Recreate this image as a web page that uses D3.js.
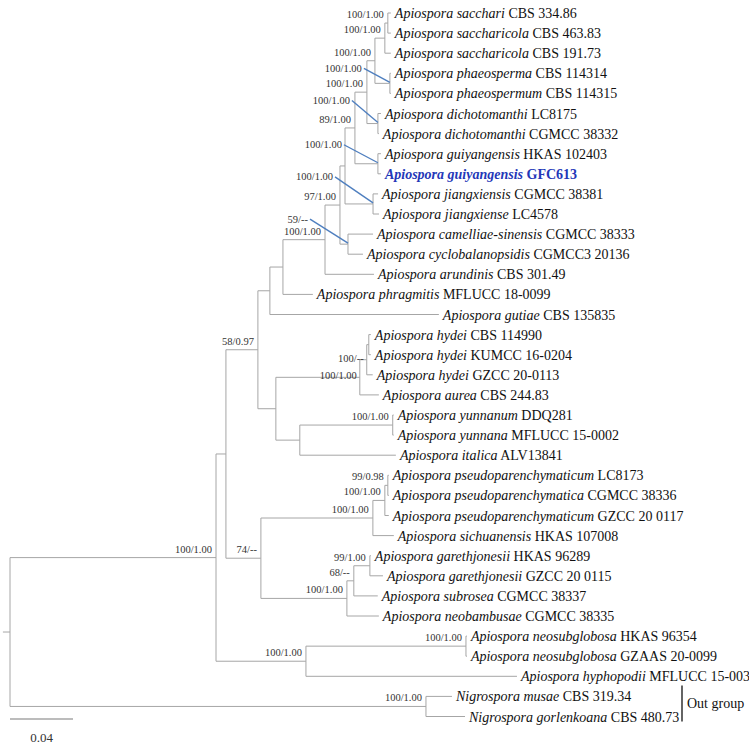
<!DOCTYPE html>
<html>
<head>
<meta charset="utf-8">
<script src="https://cdn.jsdelivr.net/npm/d3@7"></script>
<style>
  body { margin: 0; background: #fff; }
  svg { display: block; font-family: "Liberation Serif", "Times New Roman", serif; }
</style>
</head>
<body>
<svg id="tree" width="749" height="746"></svg>
<script>
// taxa, top to bottom (genus + epithet in italics, strain in roman)
const genera = [
  "Apiospora", "Apiospora", "Apiospora", "Apiospora", "Apiospora", "Apiospora",
  "Apiospora", "Apiospora", "Apiospora", "Apiospora", "Apiospora", "Apiospora",
  "Apiospora", "Apiospora", "Apiospora", "Apiospora", "Apiospora", "Apiospora",
  "Apiospora", "Apiospora", "Apiospora", "Apiospora", "Apiospora", "Apiospora",
  "Apiospora", "Apiospora", "Apiospora", "Apiospora", "Apiospora", "Apiospora",
  "Apiospora", "Apiospora", "Apiospora", "Apiospora", "Nigrospora", "Nigrospora"
];
const epithets = [
  "sacchari", "saccharicola", "saccharicola", "phaeosperma", "phaeospermum",
  "dichotomanthi", "dichotomanthi", "guiyangensis", "guiyangensis", "jiangxiensis",
  "jiangxiense", "camelliae-sinensis", "cyclobalanopsidis", "arundinis", "phragmitis",
  "gutiae", "hydei", "hydei", "hydei", "aurea", "yunnanum", "yunnana", "italica",
  "pseudoparenchymaticum", "pseudoparenchymatica", "pseudoparenchymaticum",
  "sichuanensis", "garethjonesii", "garethjonesii", "subrosea", "neobambusae",
  "neosubglobosa", "neosubglobosa", "hyphopodii", "musae", "gorlenkoana"
];
const strains = [
  "CBS 334.86", "CBS 463.83", "CBS 191.73", "CBS 114314", "CBS 114315",
  "LC8175", "CGMCC 38332", "HKAS 102403", "GFC613", "CGMCC 38381",
  "LC4578", "CGMCC 38333", "CGMCC3 20136", "CBS 301.49", "MFLUCC 18-0099",
  "CBS 135835", "CBS 114990", "KUMCC 16-0204", "GZCC 20-0113", "CBS 244.83",
  "DDQ281", "MFLUCC 15-0002", "ALV13841", "LC8173", "CGMCC 38336",
  "GZCC 20 0117", "HKAS 107008", "HKAS 96289", "GZCC 20 0115", "CGMCC 38337",
  "CGMCC 38335", "HKAS 96354", "GZAAS 20-0099", "MFLUCC 15-003", "CBS 319.34",
  "CBS 480.73"
];
const newTaxa = [8];         // this study
const outgroup = [34, 35];
const scaleBarLength = 0.04;
const rootStub = 0.0045;

// clades: n(support, [child, branch length], ...), child = taxon index or clade
const n = (support, ...kids) => ({ support, kids });

const sacc1 = n("100/1.00", [0, 0.0019], [1, 0.0019]);
const sacc2 = n("100/1.00", [sacc1, 0.0019], [2, 0.0038]);
const phaeo = n("100/1.00", [3, 0.0006], [4, 0.0006]);
const saccPhaeo = n("100/1.00", [sacc2, 0.0063], [phaeo, 0.0095]);
const dicho = n("100/1.00", [5, 0.0019], [6, 0.0006]);
const upper = n("100/1.00", [saccPhaeo, 0.0051], [dicho, 0.0070]);
const guiy = n("100/1.00", [7, 0.0019], [8, 0.0019]);
const upper2 = n("89/1.00", [upper, 0.0076], [guiy, 0.0146]);
const jiang = n("100/1.00", [9, 0.0032], [10, 0.0038]);
const upper3 = n("", [upper2, 0.0063], [jiang, 0.0178]);
const camCyc = n("59/--", [11, 0.0159], [12, 0.0095]);
const upper4 = n("97/1.00", [upper3, 0.0032], [camCyc, 0.0051]);
const arund = n("100/1.00", [upper4, 0.0095], [13, 0.0311]);
const phrag = n("", [arund, 0.0267], [14, 0.0190]);
const gutiae = n("", [phrag, 0.0083], [15, 0.1073]);
const hydei1 = n("", [16, 0.0013], [17, 0.0013]);
const hydei = n("100/--", [hydei1, 0.0013], [18, 0.0038]);
const aurea = n("100/1.00", [hydei, 0.0044], [19, 0.0121]);
const yunn = n("100/1.00", [20, 0.0006], [21, 0.0006]);
const italica = n("", [yunn, 0.0590], [22, 0.0610]);
const hydeiItal = n("", [aurea, 0.0533], [italica, 0.0152]);
const cladeA = n("58/0.97", [gutiae, 0.0076], [hydeiItal, 0.0114]);
const pseudo1 = n("99/0.98", [23, 0.0006], [24, 0.0006]);
const pseudo2 = n("100/1.00", [pseudo1, 0.0019], [25, 0.0025]);
const pseudo3 = n("100/1.00", [pseudo2, 0.0076], [26, 0.0133]);
const gareth1 = n("99/1.00", [27, 0.0006], [28, 0.0083]);
const gareth2 = n("68/--", [gareth1, 0.0102], [29, 0.0152]);
const gareth3 = n("100/1.00", [gareth2, 0.0044], [30, 0.0203]);
const cladeB = n("74/--", [pseudo3, 0.0711], [gareth3, 0.0546]);
const mainClade = n("", [cladeA, 0.0203], [cladeB, 0.0222]);
const neosub = n("100/1.00", [31, 0.0006], [32, 0.0006]);
const cladeC = n("100/1.00", [neosub, 0.1016], [33, 0.1340]);
const apiospora = n("100/1.00", [mainClade, 0.0063], [cladeC, 0.0571]);
const nigrospora = n("100/1.00", [34, 0.0165], [35, 0.0248]);
const treeData = n("", [apiospora, 0.1308], [nigrospora, 0.2641]);

// support labels pulled away from crowded nodes (keyed by first taxon of clade)
const leaderOffsets = { 3: [-28, -15], 5: [-28, -23], 7: [-36, -19], 9: [-40, -27], 11: [-40, -25] };
// labels sitting beside their node instead of above it
const besideNode = [16];

const svg = d3.select("#tree");
const x = d3.scaleLinear().domain([0, scaleBarLength]).range([10, 73]);
const y = d3.scaleLinear().domain([0, strains.length - 1]).range([13, 716.5]);

const root = d3.hierarchy(treeData, d => d.kids
  ? d.kids.map(([c, bl]) => typeof c === "number" ? { leaf: c, bl } : { ...c, bl })
  : null);

// cumulative branch length and vertical position
root.each(d => d.len = d.parent ? d.parent.len + d.data.bl : 0);
root.eachAfter(d => {
  d.py = d.children
    ? (d.children[0].py + d.children[d.children.length - 1].py) / 2
    : y(d.data.leaf);
});
const firstLeaf = d => d.children ? firstLeaf(d.children[0]) : d.data.leaf;

const lineColor = "#a6a6a6";
const g = svg.append("g");

// horizontal branches
g.selectAll("path.branch")
  .data(root.descendants().filter(d => d.parent))
  .join("path")
  .attr("class", "branch")
  .attr("d", d => `M${x(d.parent.len)},${d.py}H${x(d.len)}`)
  .attr("stroke", lineColor)
  .attr("stroke-width", 1)
  .attr("fill", "none");

// vertical connectors
g.selectAll("path.conn")
  .data(root.descendants().filter(d => d.children))
  .join("path")
  .attr("class", "conn")
  .attr("d", d => `M${x(d.len)},${d.children[0].py}V${d.children[d.children.length - 1].py}`)
  .attr("stroke", lineColor)
  .attr("stroke-width", 1)
  .attr("fill", "none");

// root stub
g.append("path")
  .attr("d", `M${x(-rootStub)},${root.py}H${x(0)}`)
  .attr("stroke", lineColor)
  .attr("stroke-width", 1);

// support values
const supported = root.descendants().filter(d => d.children && d.data.support);
supported.forEach(d => {
  const nx = x(d.len), ny = d.py;
  const key = firstLeaf(d);
  const off = leaderOffsets[key];
  if (off) {
    const lx = nx + off[0], ly = ny + off[1];
    g.append("line")
      .attr("x1", lx + 2).attr("y1", ly)
      .attr("x2", nx).attr("y2", ny - 1)
      .attr("stroke", "#4f7fbf")
      .attr("stroke-width", 1.4);
    g.append("text")
      .attr("x", lx).attr("y", ly + 3.5)
      .attr("text-anchor", "end")
      .attr("fill", "#333")
      .style("font-size", "10.5px")
      .text(d.data.support);
  } else {
    const beside = besideNode.includes(key);
    g.append("text")
      .attr("x", nx - (beside ? 3 : 4))
      .attr("y", beside ? ny + 2 : ny - 5)
      .attr("text-anchor", "end")
      .attr("fill", "#333")
      .style("font-size", "10.5px")
      .text(d.data.support);
  }
});

// taxon labels
const leafLabels = g.selectAll("text.taxon")
  .data(root.leaves())
  .join("text")
  .attr("class", "taxon")
  .attr("x", d => x(d.len) + 4)
  .attr("y", d => d.py + 5)
  .attr("fill", d => newTaxa.includes(d.data.leaf) ? "#2337b8" : "#111")
  .style("font-size", "14px")
  .style("font-weight", d => newTaxa.includes(d.data.leaf) ? "bold" : "normal");
leafLabels.append("tspan")
  .style("font-style", "italic")
  .text(d => `${genera[d.data.leaf]} ${epithets[d.data.leaf]}`);
leafLabels.append("tspan")
  .text(d => ` ${strains[d.data.leaf]}`);

// out group bracket
const ogTop = y(outgroup[0]) - 11, ogBottom = y(outgroup[1]) + 5;
g.append("line")
  .attr("x1", 682).attr("x2", 682)
  .attr("y1", ogTop).attr("y2", ogBottom)
  .attr("stroke", "#111")
  .attr("stroke-width", 1.3);
g.append("text")
  .attr("x", 687).attr("y", (ogTop + ogBottom) / 2 + 5)
  .attr("fill", "#111")
  .style("font-size", "14px")
  .text("Out group");

// scale bar
g.append("line")
  .attr("x1", x(0)).attr("x2", x(scaleBarLength))
  .attr("y1", 719).attr("y2", 719)
  .attr("stroke", lineColor)
  .attr("stroke-width", 1.6);
g.append("text")
  .attr("x", (x(0) + x(scaleBarLength)) / 2)
  .attr("y", 742)
  .attr("text-anchor", "middle")
  .attr("fill", "#333")
  .style("font-size", "13px")
  .text(scaleBarLength);
</script>
</body>
</html>
